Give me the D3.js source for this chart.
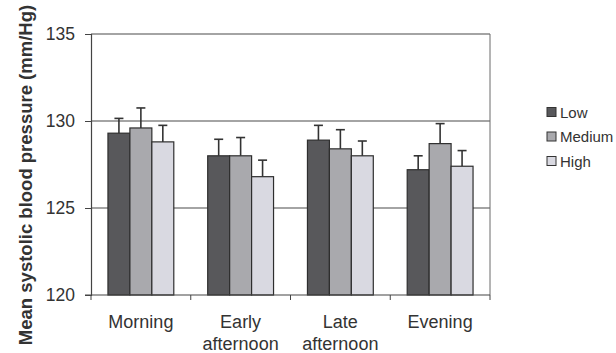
<!DOCTYPE html>
<html>
<head>
<meta charset="utf-8">
<script src="https://cdn.jsdelivr.net/npm/d3@7/dist/d3.min.js"></script>
<style>
  html, body { margin: 0; padding: 0; background: #fff; }
  svg { display: block; font-family: Arial, "Liberation Sans", sans-serif; }
</style>
</head>
<body>
<svg id="chart" width="616" height="353"></svg>
<script>
// Time periods along the x axis (each may wrap onto two lines)
const periods = ["Morning", "Early afternoon", "Late afternoon", "Evening"];
const periodLines = [["Morning"], ["Early", "afternoon"], ["Late", "afternoon"], ["Evening"]];
// Groups drawn within each period
const groups = ["Low", "Medium", "High"];
// Mean systolic blood pressure per period, one array per group
const lowValues = [129.3, 128.0, 128.9, 127.2];
const mediumValues = [129.6, 128.0, 128.4, 128.7];
const highValues = [128.8, 126.8, 128.0, 127.4];
// Upper error bar lengths
const lowErrors = [0.85, 0.95, 0.85, 0.8];
const mediumErrors = [1.15, 1.05, 1.1, 1.15];
const highErrors = [0.95, 0.95, 0.85, 0.9];
// Y axis ticks
const yTicks = [120, 125, 130, 135];

const seriesValues = [lowValues, mediumValues, highValues];
const seriesErrors = [lowErrors, mediumErrors, highErrors];
const fills = ["#58585b", "#a9a9ad", "#d9d9e1"];

const svg = d3.select("#chart");
const margin = { left: 91, right: 126, top: 34, bottom: 58 };
const W = 616, H = 353;
const x0 = margin.left, x1 = W - margin.right;
const yTop = margin.top, yBot = H - margin.bottom;

const y = d3.scaleLinear().domain([120, 135]).range([yBot, yTop]);
const x = d3.scaleBand().domain(periods).range([x0, x1])
  .paddingInner(0.34).paddingOuter(0.17);
const xs = d3.scaleBand().domain(groups).range([0, x.bandwidth()]);

// Gridlines at 125, 130, 135
svg.append("g").selectAll("line").data(yTicks.filter(t => t > 120)).join("line")
  .attr("x1", x0).attr("x2", x1)
  .attr("y1", d => y(d)).attr("y2", d => y(d))
  .attr("stroke", "#4a4a4a").attr("stroke-width", 1.2);

// Right edge of the plot area
svg.append("line").attr("x1", x1).attr("x2", x1).attr("y1", yTop).attr("y2", yBot)
  .attr("stroke", "#6a6a6a").attr("stroke-width", 1);

// Bars and error bars
const rows = [];
periods.forEach((p, i) => groups.forEach((g, j) => rows.push({
  p, g, j, v: seriesValues[j][i], e: seriesErrors[j][i]
})));

const bars = svg.append("g");
bars.selectAll("line.err").data(rows).join("line").attr("class", "err")
  .attr("x1", d => x(d.p) + xs(d.g) + xs.bandwidth() / 2)
  .attr("x2", d => x(d.p) + xs(d.g) + xs.bandwidth() / 2)
  .attr("y1", d => y(d.v)).attr("y2", d => y(d.v + d.e))
  .attr("stroke", "#333").attr("stroke-width", 1.6);
bars.selectAll("line.cap").data(rows).join("line").attr("class", "cap")
  .attr("x1", d => x(d.p) + xs(d.g) + xs.bandwidth() / 2 - 4.5)
  .attr("x2", d => x(d.p) + xs(d.g) + xs.bandwidth() / 2 + 4.5)
  .attr("y1", d => y(d.v + d.e)).attr("y2", d => y(d.v + d.e))
  .attr("stroke", "#333").attr("stroke-width", 1.6);
bars.selectAll("rect").data(rows).join("rect")
  .attr("x", d => x(d.p) + xs(d.g))
  .attr("width", xs.bandwidth())
  .attr("y", d => y(d.v))
  .attr("height", d => yBot - y(d.v))
  .attr("fill", d => fills[d.j])
  .attr("stroke", "#2e2e2e").attr("stroke-width", 1.2);

// Y axis
const yAxis = svg.append("g").attr("transform", `translate(${x0},0)`)
  .call(d3.axisLeft(y).tickValues(yTicks).tickSize(6).tickPadding(10).tickFormat(d3.format("d")));
yAxis.select(".domain").attr("stroke", "#444").attr("stroke-width", 1.2);
yAxis.selectAll(".tick line").attr("stroke", "#444");
yAxis.selectAll("text").attr("font-size", 17.5).attr("fill", "#333")
  .attr("font-family", "Arial, 'Liberation Sans', sans-serif");

// X axis with ticks at category boundaries
const bounds = d3.range(periods.length + 1).map(i => x0 + i * (x1 - x0) / periods.length);
svg.append("line").attr("x1", x0 - 6).attr("x2", x1).attr("y1", yBot).attr("y2", yBot)
  .attr("stroke", "#444").attr("stroke-width", 1.2);
svg.append("g").selectAll("line").data(bounds).join("line")
  .attr("x1", d => d).attr("x2", d => d)
  .attr("y1", yBot).attr("y2", yBot + 5)
  .attr("stroke", "#444").attr("stroke-width", 1);

// Category labels
const lbl = svg.append("g").selectAll("text").data(periods).join("text")
  .attr("x", d => x(d) + x.bandwidth() / 2)
  .attr("y", 328)
  .attr("text-anchor", "middle")
  .attr("font-size", 18).attr("fill", "#333");
lbl.each(function (d, i) {
  d3.select(this).selectAll("tspan").data(periodLines[i]).join("tspan")
    .attr("x", x(d) + x.bandwidth() / 2)
    .attr("dy", (t, k) => k === 0 ? 0 : 22)
    .text(t => t);
});

// Y axis title
svg.append("text")
  .attr("transform", "translate(32,175) rotate(-90)")
  .attr("text-anchor", "middle")
  .attr("font-size", 18.5).attr("font-weight", "bold").attr("fill", "#333")
  .text("Mean systolic blood pressure (mm/Hg)");

// Legend
const legend = svg.append("g").attr("transform", "translate(547,112)");
const li = legend.selectAll("g").data(groups).join("g")
  .attr("transform", (d, i) => `translate(0,${i * 24.5})`);
li.append("rect").attr("x", 0).attr("y", -4.5).attr("width", 9).attr("height", 9)
  .attr("fill", (d, i) => fills[i]).attr("stroke", "#333").attr("stroke-width", 1);
li.append("text").attr("x", 13).attr("y", 5.5)
  .attr("font-size", 15).attr("fill", "#333").text(d => d);
</script>
</body>
</html>
